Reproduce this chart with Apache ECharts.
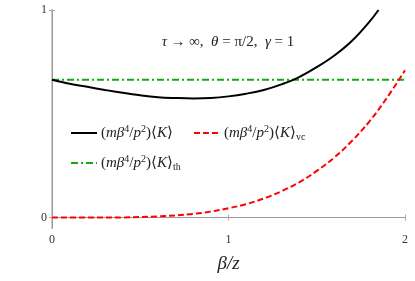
<!DOCTYPE html>
<html><head><meta charset="utf-8">
<script src="https://cdn.jsdelivr.net/npm/echarts@6/dist/echarts.min.js"></script>
<style>html,body{margin:0;padding:0;background:#fff}#c{width:415px;height:281px}</style>
</head><body><div id="c"></div>
<script>
// Data
var xK = [0, 0.1, 0.2, 0.3, 0.4, 0.5, 0.6, 0.7, 0.8, 0.9, 1.0, 1.1, 1.2, 1.3, 1.4, 1.5, 1.6, 1.7, 1.8, 1.85];
var yK = [0.664, 0.645, 0.630, 0.615, 0.601, 0.589, 0.580, 0.576, 0.574, 0.576, 0.584, 0.597, 0.615, 0.642, 0.677, 0.725, 0.781, 0.852, 0.945, 1.0];
var xVc = [0, 0.2, 0.4, 0.6, 0.8, 0.9, 1.0, 1.1, 1.2, 1.3, 1.4, 1.5, 1.6, 1.7, 1.8, 1.9, 2.0];
var yVc = [0, 0.0001, 0.001, 0.006, 0.018, 0.029, 0.045, 0.065, 0.092, 0.127, 0.170, 0.225, 0.290, 0.370, 0.465, 0.580, 0.710];
var xTh = [0, 2];
var yTh = [0.664, 0.664];
var xTicks = [0, 1, 2];
var yTicks = [0, 1];

function pairs(xs, ys) { return xs.map(function (x, i) { return [x, ys[i]]; }); }

var serif = 'Liberation Serif';
var rich = {
  it: { fontFamily: serif, fontStyle: 'italic', fontSize: 15, color: '#222', lineHeight: 18 },
  n: { fontFamily: serif, fontSize: 15, color: '#222', lineHeight: 18 },
  sup: { fontFamily: serif, fontSize: 10, color: '#222', verticalAlign: 'top', lineHeight: 18, padding: [0, 0, 5, 0] },
  sub: { fontFamily: serif, fontSize: 10, color: '#222', verticalAlign: 'bottom', lineHeight: 18, padding: [6, 0, 0, 0] },
  pad: { width: 8, lineHeight: 18 }
};
var base = '{n|(}{it|mβ}{sup|4}{n|/}{it|p}{sup|2}{n|)⟨}{it|K}{n|⟩}';
var names = { K: base + '{pad| }', vc: base + '{sub|vc}', th: base + '{sub|th}' };

var chart = echarts.init(document.getElementById('c'), null, { renderer: 'canvas' });
var axisLabelStyle = { fontFamily: serif, fontSize: 12, color: '#333' };
chart.setOption({
  animation: false,
  grid: { left: 52, right: 10, top: 10, bottom: 53 },
  xAxis: [{
    type: 'value', min: 0, max: 2, interval: 1, position: 'bottom',
    axisLine: { show: true, lineStyle: { color: '#999', width: 1 } },
    axisTick: { show: true, inside: true, length: 3, lineStyle: { color: '#aaa' } },
    axisLabel: Object.assign({ margin: 6 }, axisLabelStyle),
    splitLine: { show: false },
    name: 'β/z', nameLocation: 'middle', nameGap: 26,
    nameTextStyle: { fontFamily: serif, fontStyle: 'italic', fontSize: 19, color: '#222' }
  }, {
    type: 'value', min: 0, max: 2, interval: 1, position: 'top',
    axisLine: { show: true, lineStyle: { color: '#999', width: 1 } },
    axisTick: { show: true, inside: true, length: 3, lineStyle: { color: '#aaa' } },
    axisLabel: { show: false }, splitLine: { show: false }
  }],
  yAxis: [{
    type: 'value', min: -0.05, max: 1, position: 'left',
    axisLine: { show: true, lineStyle: { color: '#ccc', width: 2 } },
    axisTick: { show: true, inside: true, length: 3, customValues: yTicks, lineStyle: { color: '#aaa' } },
    axisLabel: Object.assign({ margin: 5, customValues: yTicks }, axisLabelStyle),
    splitLine: { show: false }
  }, {
    type: 'value', min: -0.05, max: 1, position: 'right',
    axisLine: { show: true, lineStyle: { color: '#999', width: 1 } },
    axisTick: { show: true, inside: true, length: 3, customValues: yTicks, lineStyle: { color: '#aaa' } },
    axisLabel: { show: false }, splitLine: { show: false }
  }],
  legend: {
    data: ['K', 'vc', 'th'], left: 70, top: 124, width: 300,
    orient: 'horizontal', itemWidth: 26, itemHeight: 10, itemGap: 12, padding: 0,
    itemStyle: { opacity: 0, borderWidth: 0 },
    formatter: function (n) { return names[n]; },
    textStyle: { rich: rich, padding: [0, 0, 0, -1] }
  },
  graphic: [{
    type: 'text', x: 228, y: 42,
    style: {
      text: '{g|τ} {n|→ ∞,  }{g|θ}{n| = π/2,  }{g|γ}{n| = 1}',
      align: 'center', verticalAlign: 'middle',
      rich: {
        g: { fontFamily: serif, fontStyle: 'italic', fontSize: 15, fill: '#222' },
        n: { fontFamily: serif, fontSize: 15, fill: '#222' }
      }
    }
  }],
  series: [{
    name: 'th', type: 'line', data: pairs(xTh, yTh), showSymbol: false, symbol: 'none',
    lineStyle: { color: '#11aa11', width: 2, type: [7, 3, 2, 3] }, itemStyle: { color: '#11aa11' }, z: 2
  }, {
    name: 'K', type: 'line', data: pairs(xK, yK), smooth: 0.4, showSymbol: false, symbol: 'none',
    lineStyle: { color: '#000', width: 2 }, itemStyle: { color: '#000' }, z: 3
  }, {
    name: 'vc', type: 'line', data: pairs(xVc, yVc), smooth: 0.4, showSymbol: false, symbol: 'none',
    lineStyle: { color: '#ff0000', width: 2, type: [6, 3] }, itemStyle: { color: '#ff0000' }, z: 4
  }]
});
</script></body></html>
